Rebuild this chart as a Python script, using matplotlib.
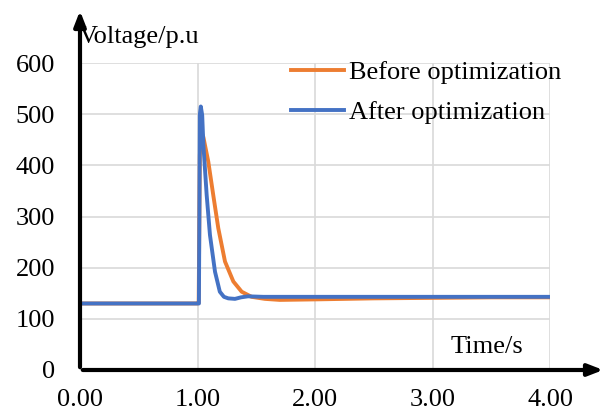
import matplotlib.pyplot as plt

plt.rcParams['font.family'] = ['Liberation Serif', 'DejaVu Serif']

# time points and voltages
t_before = [0.0, 1.0, 1.01, 1.02, 1.03, 1.05, 1.092, 1.134, 1.177, 1.234, 1.305, 1.376, 1.46, 1.574,
            1.7, 2.0, 2.5, 3.0, 3.5, 4.0]
v_before = [130, 130, 131, 420, 466, 455, 407, 342, 277, 212, 173, 153, 143, 139,
            137, 138, 140, 141, 142, 142]
t_after = [0.0, 1.012, 1.016, 1.02, 1.028, 1.04, 1.05, 1.078, 1.106, 1.149, 1.19, 1.225, 1.262,
           1.319, 1.37, 1.43, 1.56, 2.0, 3.0, 4.0]
v_after = [130, 130, 300, 500, 515, 498, 440, 342, 264, 192, 153, 143, 140,
           139, 142, 144, 143, 143, 143, 143]
x_ticks = [0, 1, 2, 3, 4]
y_ticks = [0, 100, 200, 300, 400, 500, 600]

fig = plt.figure(figsize=(6.16, 4.18), dpi=100)
ax = fig.add_axes([80 / 616, 1 - 370 / 418, 470 / 616, 307 / 418])

ax.plot(t_before, v_before, color='#ED7D31', lw=2.8, label='Before optimization')
ax.plot(t_after, v_after, color='#4472C4', lw=2.8, label='After optimization')

ax.set_xlim(0, 4)
ax.set_ylim(0, 600)
ax.set_xticks(x_ticks)
ax.set_xticklabels([f'{v:.2f}' for v in x_ticks])
ax.set_yticks(y_ticks)
ax.grid(True, color='#d9d9d9', lw=1.2)
ax.set_axisbelow(True)
ax.tick_params(length=0, labelsize=19, pad=14)
ax.tick_params(axis='y', pad=18)
for s in ax.spines.values():
    s.set_visible(False)

# axis arrows
ax.annotate('', xy=(606 / 616, 1 - 370 / 418), xytext=(80 / 616, 1 - 370 / 418),
            xycoords='figure fraction',
            arrowprops=dict(arrowstyle='-|>,head_width=0.35,head_length=0.9', lw=3, color='black'))
ax.annotate('', xy=(80 / 616, 1 - 8 / 418), xytext=(80 / 616, 1 - 370 / 418),
            xycoords='figure fraction',
            arrowprops=dict(arrowstyle='-|>,head_width=0.35,head_length=0.9', lw=3, color='black'))

fig.text(79 / 616, 1 - 37 / 418, 'Voltage/p.u', fontsize=19, va='center', ha='left')
fig.text(487 / 616, 1 - 347 / 418, 'Time/s', fontsize=19, va='center', ha='center')

ax.legend(loc='upper left', bbox_to_anchor=(291 / 616, 1 - 61 / 418), bbox_transform=fig.transFigure,
          frameon=False, fontsize=19, borderpad=0, borderaxespad=0,
          handlelength=2.0, handletextpad=0.2, labelspacing=0.62)

plt.savefig('out.png', dpi=100)
